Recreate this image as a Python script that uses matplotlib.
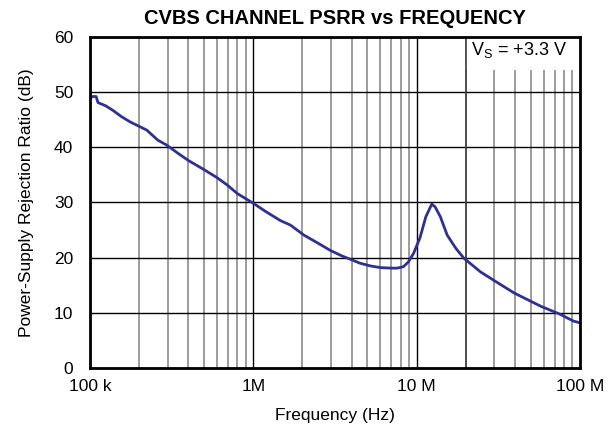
import matplotlib
matplotlib.use("Agg")
import matplotlib.pyplot as plt
from matplotlib.ticker import FixedLocator, NullFormatter

plt.rcParams['font.family'] = ['Liberation Sans', 'DejaVu Sans']

# PSRR curve
freq_hz = [100e3, 105e3, 109e3, 112e3, 125e3, 138e3, 155e3, 176e3, 200e3, 223e3,
           260e3, 295e3, 350e3, 401e3, 496e3, 600e3, 690e3, 800e3, 995e3, 1.2e6,
           1.47e6, 1.69e6, 2.04e6, 2.5e6, 2.97e6, 3.5e6, 3.94e6, 4.5e6, 5.22e6, 6.0e6,
           7.0e6, 7.6e6, 8.3e6, 8.9e6, 9.6e6, 10.5e6, 11.4e6, 12.4e6, 13.0e6, 14.0e6,
           15.4e6, 17.4e6, 19.5e6, 24.7e6, 29.7e6, 39.6e6, 57.6e6, 75e6, 91.6e6, 100e6]
psrr_db = [49.0, 49.2, 49.2, 48.1, 47.5, 46.7, 45.6, 44.6, 43.8, 43.1,
           41.3, 40.4, 38.8, 37.6, 36.0, 34.5, 33.2, 31.6, 29.9, 28.3,
           26.7, 25.9, 24.1, 22.6, 21.3, 20.3, 19.7, 19.0, 18.5, 18.2,
           18.1, 18.1, 18.35, 19.2, 20.8, 23.6, 27.4, 29.7, 29.2, 27.4,
           24.1, 21.7, 19.9, 17.4, 15.9, 13.6, 11.2, 9.8, 8.5, 8.2]

x_ticks = [1e5, 1e6, 1e7, 1e8]
x_tick_labels = ['100 k', '1M', '10 M', '100 M']
y_ticks = [0, 10, 20, 30, 40, 50, 60]

fig = plt.figure(figsize=(6.1, 4.34), dpi=100)
ax = fig.add_axes([0.1475, 0.152, 0.803, 0.763])

ax.set_xscale('log')
ax.set_xlim(1e5, 1e8)
ax.set_ylim(0, 60)
ax.set_xticks(x_ticks)
ax.set_xticklabels(x_tick_labels)
ax.xaxis.set_minor_locator(FixedLocator([m * d for d in (1e5, 1e6, 1e7) for m in range(2, 10)]))
ax.xaxis.set_minor_formatter(NullFormatter())
ax.set_yticks(y_ticks)
ax.tick_params(which='both', length=0, labelsize=12.5)
ax.tick_params(axis='x', pad=8)
ax.tick_params(axis='y', pad=12)

ax.set_axisbelow(True)
ax.grid(True, which='major', color='black', linewidth=1.0)
ax.grid(True, which='minor', axis='x', color='#8c8c8c', linewidth=1.2)

# white label area in the upper right, 20 MHz line stays visible
ax.axvspan(2e7, 1e8, ymin=54 / 60, ymax=1, facecolor='white', edgecolor='none', zorder=1)
ax.axvline(2e7, color='#404040', linewidth=1.2, zorder=1.5)
ax.text(2.15e7, 57.6, r'V$_\mathregular{S}$ = +3.3 V', fontsize=13,
        va='center', ha='left', zorder=2)

ax.plot(freq_hz, psrr_db, color='#2e3192', linewidth=2.0, zorder=3)

for s in ax.spines.values():
    s.set_linewidth(2.0)
    s.set_zorder(4)

ax.set_title('CVBS CHANNEL PSRR vs FREQUENCY', fontsize=14.5, fontweight='bold', pad=9)
ax.set_xlabel('Frequency (Hz)', fontsize=12.5, labelpad=10)
ax.set_ylabel('Power-Supply Rejection Ratio (dB)', fontsize=12.5, labelpad=14,
              family=['Liberation Sans Narrow', 'Liberation Sans'])

fig.savefig('out.png', dpi=100)
